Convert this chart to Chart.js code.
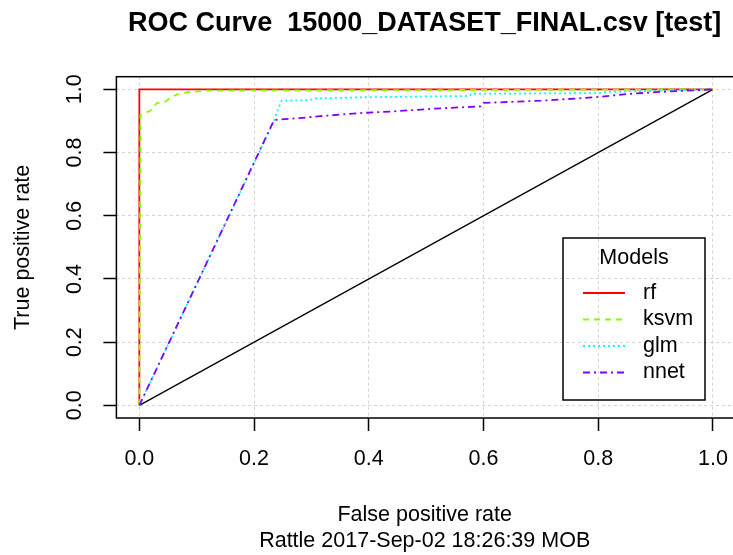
<!DOCTYPE html>
<html>
<head>
<meta charset="utf-8">
<script src="https://cdn.jsdelivr.net/npm/chart.js@4/dist/chart.umd.min.js"></script>
<style>
  html, body { margin: 0; padding: 0; background: #fff; }
  #wrap { width: 733px; height: 555px; }
</style>
</head>
<body>
<div id="wrap"><canvas id="roc"></canvas></div>
<script>
// values
const MODELS = ['rf', 'ksvm', 'glm', 'nnet'];
const TICKS = [0, 0.2, 0.4, 0.6, 0.8, 1.0];

const RF_FPR = [0, 0, 1];
const RF_TPR = [0, 1, 1];

const KSVM_FPR = [0, 0.002, 0.019, 0.030, 0.045, 0.059, 0.071, 0.085, 0.118, 0.3, 0.6, 1];
const KSVM_TPR = [0, 0.919, 0.932, 0.956, 0.961, 0.979, 0.987, 0.991, 0.996, 0.997, 0.998, 1];

const GLM_FPR = [0, 0.234, 0.240, 0.248, 0.298, 0.303, 0.393, 0.48, 0.575, 0.58, 0.8, 0.82, 1];
const GLM_TPR = [0, 0.897, 0.929, 0.964, 0.966, 0.971, 0.975, 0.977, 0.979, 0.986, 0.988, 0.992, 1];

const NNET_FPR = [0, 0.235, 0.285, 0.315, 0.385, 0.44, 0.525, 0.595, 0.6, 0.7, 0.77, 0.8, 0.85, 0.9, 1];
const NNET_TPR = [0, 0.903, 0.91, 0.915, 0.925, 0.93, 0.94, 0.946, 0.957, 0.964, 0.972, 0.976, 0.985, 0.991, 1];

const DIAG_FPR = [0, 1];
const DIAG_TPR = [0, 1];

const FONT = "'Liberation Sans', Arial, sans-serif";

function pts(xs, ys) {
  return xs.map((x, i) => ({ x: x, y: ys[i] }));
}

const curves = [
  { label: 'rf', data: pts(RF_FPR, RF_TPR), borderColor: '#FF0000', borderDash: [], order: 4 },
  { label: 'ksvm', data: pts(KSVM_FPR, KSVM_TPR), borderColor: '#80FF00', borderDash: [6, 5], order: 3 },
  { label: 'glm', data: pts(GLM_FPR, GLM_TPR), borderColor: '#00FFFF', borderDash: [2, 3], order: 2 },
  { label: 'nnet', data: pts(NNET_FPR, NNET_TPR), borderColor: '#8000FF', borderDash: [7, 4, 2, 4], order: 1 },
  { label: 'diag', data: pts(DIAG_FPR, DIAG_TPR), borderColor: '#000000', borderDash: [], order: 5, borderWidth: 1.3 }
];

const datasets = curves.map(c => ({
  label: c.label,
  data: c.data,
  borderColor: c.borderColor,
  borderDash: c.borderDash,
  borderWidth: c.borderWidth || 1.8,
  pointRadius: 0,
  tension: 0,
  fill: false,
  order: c.order
}));

// box around the plot region (right edge falls off the canvas) + the R style legend
const boxAndLegend = {
  id: 'boxAndLegend',
  afterDraw(chart) {
    const { ctx, chartArea: a } = chart;
    ctx.save();
    ctx.strokeStyle = '#000';
    ctx.lineWidth = 1.5;
    ctx.setLineDash([]);
    ctx.strokeRect(a.left, a.top, a.right - a.left + 4, a.bottom - a.top);

    // legend
    const bx = a.right - 170, by = a.bottom - 180, bw = 142, bh = 162;
    ctx.strokeRect(bx, by, bw, bh);
    ctx.fillStyle = '#000';
    ctx.font = '21.5px ' + FONT;
    ctx.textBaseline = 'middle';
    ctx.textAlign = 'center';
    ctx.fillText('Models', bx + bw / 2, by + 20);
    ctx.textAlign = 'left';
    MODELS.forEach((m, i) => {
      const ds = chart.data.datasets.find(d => d.label === m);
      const y = by + 55 + i * 26.5;
      ctx.strokeStyle = ds.borderColor;
      ctx.lineWidth = 1.8;
      ctx.setLineDash(ds.borderDash);
      ctx.beginPath();
      ctx.moveTo(bx + 20, y);
      ctx.lineTo(bx + 62, y);
      ctx.stroke();
      ctx.fillText(m, bx + 80, y);
    });
    ctx.restore();
  }
};

const setTicks = scale => { scale.ticks = TICKS.map(v => ({ value: v })); };

new Chart(document.getElementById('roc'), {
  type: 'line',
  data: { datasets: datasets },
  plugins: [boxAndLegend],
  options: {
    responsive: true,
    maintainAspectRatio: false,
    animation: false,
    layout: { padding: 0 },
    plugins: {
      legend: { display: false },
      tooltip: { enabled: false },
      title: {
        display: true,
        text: 'ROC Curve  15000_DATASET_FINAL.csv [test]',
        fullSize: false,
        color: '#000',
        font: { family: FONT, size: 27, weight: 'bold', lineHeight: 1.2 },
        padding: { top: 7.5, bottom: 36.8 }
      },
      subtitle: {
        display: true,
        position: 'bottom',
        text: 'Rattle 2017-Sep-02 18:26:39 MOB',
        fullSize: false,
        color: '#000',
        font: { family: FONT, size: 21.5, lineHeight: 1 },
        padding: { top: 1.85, bottom: 3.25 }
      }
    },
    scales: {
      x: {
        type: 'linear',
        min: -0.04,
        max: 1.035,
        z: 1,
        afterBuildTicks: setTicks,
        afterFit: s => { s.height = 110.4; s.paddingLeft = 0; s.paddingRight = 0; },
        border: { display: false, dash: [3, 3] },
        grid: {
          color: '#d3d3d3',
          lineWidth: 1,
          tickLength: 13,
          tickColor: '#000',
          tickWidth: 1.5,
          tickBorderDash: []
        },
        ticks: {
          autoSkip: false,
          maxRotation: 0,
          padding: 15.1,
          color: '#000',
          font: { family: FONT, size: 21.5 },
          callback: v => v.toFixed(1)
        },
        title: {
          display: true,
          text: 'False positive rate',
          color: '#000',
          font: { family: FONT, size: 21.5 },
          padding: { top: 0, bottom: 0 }
        }
      },
      y: {
        type: 'linear',
        min: -0.04,
        max: 1.04,
        z: 1,
        afterBuildTicks: setTicks,
        afterFit: s => { s.width = 116.4; s.paddingTop = 0; s.paddingBottom = 0; },
        border: { display: false, dash: [3, 3] },
        grid: {
          color: '#d3d3d3',
          lineWidth: 1,
          tickLength: 13,
          tickColor: '#000',
          tickWidth: 1.5,
          tickBorderDash: []
        },
        ticks: {
          autoSkip: false,
          minRotation: 90,
          maxRotation: 90,
          crossAlign: 'center',
          padding: 13.4,
          color: '#000',
          font: { family: FONT, size: 21.5 },
          callback: v => v.toFixed(1)
        },
        title: {
          display: true,
          text: 'True positive rate',
          color: '#000',
          font: { family: FONT, size: 21.5 },
          padding: { top: 10.4, bottom: 0 }
        }
      }
    }
  }
});
</script>
</body>
</html>
